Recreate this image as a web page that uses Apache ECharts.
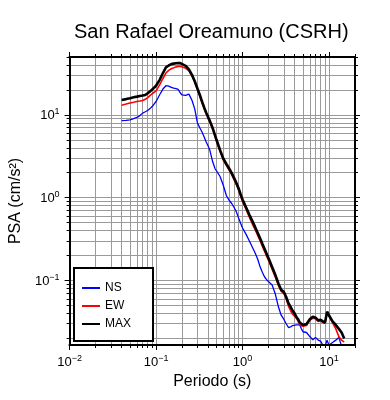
<!DOCTYPE html>
<html><head><meta charset="utf-8">
<script src="https://cdn.jsdelivr.net/npm/echarts@6/dist/echarts.min.js"></script>
<style>html,body{margin:0;padding:0;background:#fff}#c{width:390px;height:400px}</style>
</head><body><div id="c"></div>
<script>
const periods = [
  0.04, 0.045, 0.05, 0.055, 0.06, 0.065, 0.07, 0.075, 0.08, 0.085,
  0.09, 0.1, 0.11, 0.12, 0.13, 0.14, 0.15, 0.16, 0.17, 0.18,
  0.19, 0.2, 0.22, 0.24, 0.26, 0.28, 0.3, 0.32, 0.34, 0.36,
  0.38, 0.4, 0.42, 0.45, 0.48, 0.5, 0.55, 0.6, 0.65, 0.7,
  0.75, 0.8, 0.85, 0.9, 0.95, 1.0, 1.1, 1.2, 1.3, 1.4,
  1.5, 1.6, 1.7, 1.8, 1.9, 2.0, 2.2, 2.4, 2.6, 2.8,
  3.0, 3.2, 3.4, 3.6, 3.8, 4.0, 4.2, 4.4, 4.6, 4.8,
  5.0, 5.5, 6.0, 6.5, 7.0, 7.5, 8.0, 8.5, 9.0, 9.5,
  10, 11, 12, 13, 14, 15
];
const nsValues = [
  8.5, 8.6, 8.7, 9.0, 9.3, 9.8, 10.5, 10.9, 11.3, 11.9,
  12.6, 14.5, 17.5, 20.5, 22.5, 22.2, 21.5, 21, 20.8, 20.3,
  18.5, 17.4, 17.2, 17.8, 15, 11.8, 8.1, 7.0, 6.2, 5.4,
  4.7, 4.2, 3.7, 2.75, 2.25, 2.1, 1.8, 1.4, 1.06, 0.93,
  0.85, 0.76, 0.67, 0.57, 0.49, 0.43, 0.36, 0.3, 0.252, 0.215,
  0.18, 0.145, 0.125, 0.11, 0.102, 0.098, 0.088, 0.068, 0.048, 0.038,
  0.034, 0.03, 0.027, 0.0275, 0.0285, 0.029, 0.029, 0.03, 0.029, 0.026,
  0.024, 0.0235, 0.021, 0.0192, 0.0205, 0.019, 0.0185, 0.0165, 0.016, 0.019,
  0.0165, 0.0178, 0.019, 0.0205, 0.016, 0.015
];
const ewValues = [
  13.1, 13.5, 13.9, 14.2, 14.5, 14.7, 14.9, 15.4, 16.2, 17.1,
  18.0, 19.5, 23, 27.5, 32, 34.5, 36, 37, 38, 38.5,
  38.6, 38.3, 36.5, 34, 29.5, 25, 20.5, 17, 14, 11.9,
  10.3, 9.1, 8.1, 6.8, 5.5, 4.8, 3.62, 2.85, 2.45, 2.15,
  1.9, 1.64, 1.43, 1.24, 1.05, 0.9, 0.72, 0.58, 0.48, 0.41,
  0.35, 0.3, 0.258, 0.224, 0.197, 0.174, 0.137, 0.109, 0.087, 0.074,
  0.07, 0.06, 0.049, 0.043, 0.039, 0.038, 0.035, 0.032, 0.029, 0.028,
  0.028, 0.0285, 0.033, 0.035, 0.0345, 0.032, 0.0325, 0.031, 0.0305, 0.041,
  0.037, 0.031, 0.026, 0.021, 0.019, 0.018
];
const maxValues = [
  15.1, 15.5, 15.9, 16.3, 16.6, 16.9, 17.1, 17.4, 18.2, 19.2,
  20.2, 22.5, 26.5, 32, 37.5, 39.5, 41, 41.6, 42, 42.3,
  42.2, 41.5, 39, 35.5, 30.5, 25.5, 21, 17.5, 14.5, 12.3,
  10.6, 9.4, 8.4, 7.0, 5.7, 5.0, 3.75, 2.95, 2.55, 2.25,
  1.98, 1.72, 1.5, 1.3, 1.1, 0.95, 0.76, 0.62, 0.52, 0.44,
  0.375, 0.32, 0.275, 0.24, 0.21, 0.185, 0.145, 0.116, 0.092, 0.077,
  0.073, 0.063, 0.053, 0.048, 0.043, 0.04, 0.036, 0.034, 0.031, 0.0295,
  0.029, 0.0298, 0.034, 0.0365, 0.0355, 0.033, 0.0335, 0.032, 0.031, 0.042,
  0.038, 0.032, 0.029, 0.026, 0.0235, 0.0199
];
const xMajorTicks = [0.01, 0.1, 1, 10];
const yMajorTicks = [0.1, 1, 10];
const xMinorTicks = [0.02,0.03,0.04,0.05,0.06,0.07,0.08,0.09,0.2,0.3,0.4,0.5,0.6,0.7,0.8,0.9,2,3,4,5,6,7,8,9,20];
const yMinorTicks = [0.02,0.03,0.04,0.05,0.06,0.07,0.08,0.09,0.2,0.3,0.4,0.5,0.6,0.7,0.8,0.9,2,3,4,5,6,7,8,9,20,30,40,50];
const xGridLines = [0.02,0.03,0.04,0.05,0.06,0.07,0.08,0.09,0.1,0.2,0.3,0.4,0.5,0.6,0.7,0.8,0.9,1,2,3,4,5,6,7,8,9,10];
const yGridLines = [0.02,0.03,0.04,0.05,0.06,0.07,0.08,0.09,0.1,0.2,0.3,0.4,0.5,0.6,0.7,0.8,0.9,1,2,3,4,5,6,7,8,9,10,20,30,40];
const X_MIN = 0.01, X_MAX = 20, Y_MIN = 0.0166, Y_MAX = 50;

const FONT = 'Liberation Sans, Arial, Helvetica, sans-serif';
function powLabel(v) {
  const e = Math.round(Math.log10(v));
  return '{b|10}{s|' + (e < 0 ? '\u2212' + (-e) : String(e)) + '}';
}
const richLab = {
  b: { fontSize: 13, lineHeight: 15, verticalAlign: 'bottom', fontFamily: FONT, color: '#000' },
  s: { fontSize: 9, lineHeight: 9, verticalAlign: 'top', fontFamily: FONT, color: '#000' }
};
function mkAxis(kind, pos, ticks, len, withLabel, extra) {
  const isX = kind === 'x';
  const a = {
    type: 'log', logBase: 10, gridIndex: 0, position: pos,
    min: isX ? X_MIN : Y_MIN, max: isX ? X_MAX : Y_MAX,
    z: 3,
    axisLine: { show: true, onZero: false, lineStyle: { color: '#000', width: 2 } },
    axisTick: { show: true, inside: false, length: len, customValues: ticks, lineStyle: { color: '#000', width: 1 } },
    axisLabel: withLabel ? { show: true, customValues: ticks, formatter: powLabel, rich: richLab, margin: isX ? 9 : 10 } : { show: false },
    splitLine: { show: false },
    minorTick: { show: false }, minorSplitLine: { show: false }
  };
  return Object.assign(a, extra || {});
}
const chart = echarts.init(document.getElementById('c'), null, { renderer: 'canvas' });
const lineSeries = (name, vals, color, width, z) => ({
  type: 'line', name: name, symbol: 'none', showSymbol: false, z: z,
  data: periods.map((p, i) => [p, vals[i]]),
  lineStyle: { color: color, width: width }, itemStyle: { color: color },
  animation: false, clip: true
});
chart.setOption({
  backgroundColor: '#fff',
  animation: false,
  title: {
    text: 'San Rafael Oreamuno (CSRH)', left: 74, top: 22, padding: 0,
    textStyle: { fontSize: 20, fontWeight: 'normal', fontFamily: FONT, color: '#000' }
  },
  grid: { left: 67, right: 35, top: 57, bottom: 55, show: false },
  legend: {
    data: ['NS', 'EW', 'MAX'], orient: 'vertical', left: 74, top: 268,
    icon: 'rect', itemWidth: 18, itemHeight: 2, itemGap: 6,
    padding: [14, 22, 11, 8],
    backgroundColor: '#fff', borderColor: '#000', borderWidth: 2, borderRadius: 0,
    textStyle: { fontSize: 12, fontFamily: FONT, color: '#000' }
  },
  xAxis: [
    mkAxis('x', 'bottom', xMajorTicks, 5, true, {
      name: 'Periodo (s)', nameLocation: 'middle', nameGap: 29,
      nameTextStyle: { fontSize: 16, fontFamily: FONT, color: '#000' }
    }),
    mkAxis('x', 'bottom', xMinorTicks, 3, false),
    mkAxis('x', 'top', xMajorTicks, 5, false),
    mkAxis('x', 'top', xMinorTicks, 3, false)
  ],
  yAxis: [
    mkAxis('y', 'left', yMajorTicks, 5, true, {
      name: 'PSA (cm/s\u00b2)', nameLocation: 'middle', nameGap: 36,
      nameTextStyle: { fontSize: 16, fontFamily: FONT, color: '#000' }
    }),
    mkAxis('y', 'left', yMinorTicks, 3, false),
    mkAxis('y', 'right', yMajorTicks, 5, false),
    mkAxis('y', 'right', yMinorTicks, 3, false)
  ],
  series: [
    {
      type: 'line', name: 'grid', data: [], silent: true, z: 1,
      markLine: {
        silent: true, z: 1, animation: false, symbol: ['none', 'none'],
        label: { show: false },
        lineStyle: { color: '#9a9a9a', width: 1, type: 'solid' },
        emphasis: { disabled: true },
        data: xGridLines.map(v => ({ xAxis: v })).concat(yGridLines.map(v => ({ yAxis: v })))
      }
    },
    lineSeries('NS', nsValues, '#0000ff', 1.3, 2),
    lineSeries('EW', ewValues, '#ff0000', 1.6, 3),
    lineSeries('MAX', maxValues, '#000000', 2.6, 4)
  ]
});
</script>
</body></html>
